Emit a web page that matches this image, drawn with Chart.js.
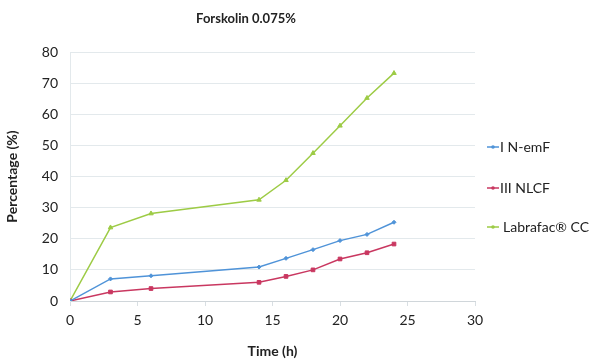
<!DOCTYPE html>
<html><head><meta charset="utf-8">
<script src="https://cdn.jsdelivr.net/npm/chart.js@4/dist/chart.umd.min.js"></script>
<style>html,body{margin:0;padding:0;background:#fff}#wrap{width:600px;height:364px}</style>
</head><body><div id="wrap"><canvas id="c" width="600" height="364"></canvas></div>
<script>
const chartTitle = 'Forskolin 0.075%';
const timeH = [0, 3, 6, 14, 16, 18, 20, 22, 24];
const seriesNames = ['I N-emF', 'III NLCF', 'Labrafac® CC'];
const nEmF = [0, 7.1, 8.1, 10.9, 13.7, 16.5, 19.4, 21.4, 25.3];
const nlcf = [0, 2.9, 4.0, 6.0, 7.9, 10.0, 13.5, 15.5, 18.3];
const labrafac = [0, 23.6, 28.1, 32.5, 38.8, 47.5, 56.3, 65.2, 73.2];
const yTicks = [0, 10, 20, 30, 40, 50, 60, 70, 80];
const xTicks = [0, 5, 10, 15, 20, 25, 30];

const FONT = 'Lato, "Open Sans", sans-serif';
const colors = ['#4f93d8', '#c93760', '#9dcb45'];
const styles = ['rectRot', 'rect', 'triangle'];
const radii = [2, 2.6, 2.6];
const seriesData = [nEmF, nlcf, labrafac];

const datasets = seriesNames.map((n, i) => ({
  label: n,
  data: timeH.map((t, k) => ({x: t, y: seriesData[i][k]})),
  borderColor: colors[i], backgroundColor: colors[i],
  borderWidth: 1.5, pointStyle: styles[i], pointRadius: radii[i],
  pointBorderWidth: 1, tension: 0
}));

const legendPlugin = {
  id: 'customLegend',
  afterDraw(chart) {
    const ctx = chart.ctx;
    const ys = [147, 188, 227];
    ctx.save();
    chart.data.datasets.forEach((ds, i) => {
      const y = ys[i];
      ctx.strokeStyle = ds.borderColor; ctx.lineWidth = 1.5;
      ctx.beginPath(); ctx.moveTo(487, y); ctx.lineTo(499, y); ctx.stroke();
      ctx.fillStyle = ds.borderColor;
      ctx.beginPath(); ctx.arc(493, y, 1.8, 0, Math.PI * 2); ctx.fill();
      ctx.fillStyle = '#222';
      ctx.font = '14px ' + FONT;
      ctx.textBaseline = 'middle'; ctx.textAlign = 'left';
      ctx.fillText(ds.label, i === 2 ? 503 : 500, y);
    });
    ctx.font = 'bold 13px ' + FONT;
    ctx.textAlign = 'center';
    ctx.fillText(chartTitle, 246, 19);
    ctx.restore();
  }
};

new Chart(document.getElementById('c'), {
  type: 'line',
  data: {datasets},
  plugins: [legendPlugin],
  options: {
    responsive: false, animation: false, devicePixelRatio: 1,
    layout: {padding: {left: 0, right: 125, top: 52, bottom: 0}},
    plugins: {
      legend: {display: false},
      tooltip: {enabled: false},
      title: {display: false}
    },
    scales: {
      x: {
        type: 'linear', min: 0, max: 30,
        afterBuildTicks: s => { s.ticks = xTicks.map(v => ({value: v})); },
        grid: {display: true, drawOnChartArea: false, drawTicks: true, tickLength: 5, color: '#d9dfe3'},
        border: {display: true, color: '#d0d6da'},
        ticks: {color: '#222', font: {family: FONT, size: 14}, padding: 6},
        title: {display: true, text: 'Time (h)', color: '#222', font: {family: FONT, size: 14, weight: 'bold'}, padding: {top: 6}},
        afterFit: s => { s.height = 63; }
      },
      y: {
        min: 0, max: 80,
        afterBuildTicks: s => { s.ticks = yTicks.map(v => ({value: v})); },
        grid: {color: '#e3e9ec', drawTicks: false},
        border: {display: true, color: '#e3e9ec'},
        ticks: {color: '#222', font: {family: FONT, size: 14}, padding: 12},
        title: {display: true, text: 'Percentage (%)', color: '#222', font: {family: FONT, size: 14, weight: 'bold'}, padding: {bottom: 10}},
        afterFit: s => { s.width = 70; }
      }
    }
  }
});
</script></body></html>
